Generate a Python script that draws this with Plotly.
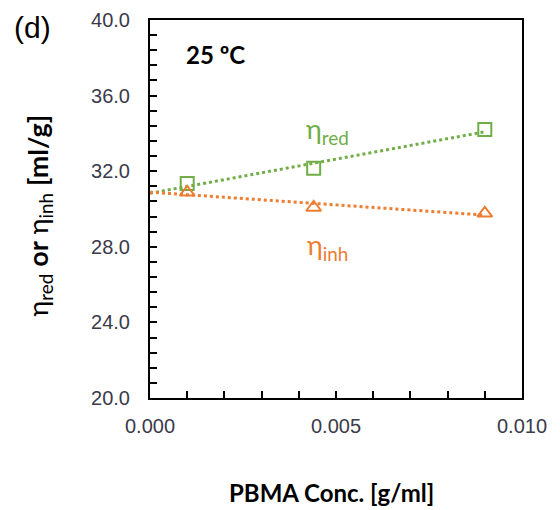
import numpy as np
import plotly.graph_objects as go

conc = [0.001, 0.0044, 0.009]
eta_red = [31.35, 32.15, 34.2]
eta_inh = [30.88, 30.08, 29.77]

x_ticks = [0.0, 0.005, 0.010]
x_tick_labels = ["0.000", "0.005", "0.010"]
y_ticks = [20, 24, 28, 32, 36, 40]
y_tick_labels = ["20.0", "24.0", "28.0", "32.0", "36.0", "40.0"]

green = "#70AD47"
orange = "#ED7D31"

fig = go.Figure()

# trendlines (linear fits extended to x = 0)
xs = np.array([0.0, max(conc)])
for vals, col in [(eta_red, green), (eta_inh, orange)]:
    m, b = np.polyfit(conc, vals, 1)
    fig.add_trace(go.Scatter(x=xs, y=m * xs + b, mode="lines",
                             line=dict(color=col, width=3, dash="dot"),
                             showlegend=False, hoverinfo="skip"))

fig.add_trace(go.Scatter(x=conc, y=eta_red, mode="markers",
                         marker=dict(symbol="square-open", size=13, color=green,
                                     line=dict(width=2, color=green)),
                         showlegend=False))
fig.add_trace(go.Scatter(x=conc, y=eta_inh, mode="markers",
                         marker=dict(symbol="triangle-up-open", size=13, color=orange,
                                     line=dict(width=2, color=orange)),
                         showlegend=False))

tick_font = dict(family="Liberation Sans, Arial, sans-serif", size=20, color="#3a3a4a")

fig.update_xaxes(range=[0, 0.010], tickvals=x_ticks, ticktext=x_tick_labels,
                 ticks="inside", ticklen=7, tickwidth=2, tickcolor="black",
                 minor=dict(dtick=0.001, ticks="inside", ticklen=7, tickwidth=2, tickcolor="black"),
                 showline=True, linecolor="black", linewidth=2, mirror=True, automargin=False,
                 showgrid=False, zeroline=False, tickfont=tick_font, ticklabelstandoff=9)
fig.update_yaxes(range=[20, 40], tickvals=y_ticks, ticktext=y_tick_labels,
                 ticks="inside", ticklen=7, tickwidth=2, tickcolor="black",
                 minor=dict(dtick=0.8, ticks="inside", ticklen=7, tickwidth=2, tickcolor="black"),
                 showline=True, linecolor="black", linewidth=2, mirror=True, automargin=False,
                 showgrid=False, zeroline=False, tickfont=tick_font, ticklabelstandoff=14)

title_font = "Lato, Open Sans, sans-serif"
fig.add_annotation(text="<b>PBMA Conc. [g/ml]</b>", xref="paper", yref="paper",
                   x=0.489, y=-0.251, xanchor="center", yanchor="middle", showarrow=False,
                   font=dict(family=title_font, size=24, color="black"))
fig.add_annotation(text="η<sub>red</sub> <b>or</b> η<sub>inh</sub> <b>[ml/g]</b>",
                   xref="paper", yref="paper", x=-0.298, y=0.483, textangle=-90,
                   xanchor="center", yanchor="middle", showarrow=False,
                   font=dict(family=title_font, size=27, color="black"))
fig.add_annotation(text="(d)", xref="paper", yref="paper", x=-0.37, y=0.981,
                   xanchor="left", yanchor="middle", showarrow=False,
                   font=dict(family="Liberation Sans, Arial", size=30, color="black"))
fig.add_annotation(text="<b>25 ºC</b>", x=0.00175, y=38.15, xanchor="center", yanchor="middle",
                   showarrow=False, font=dict(family=title_font, size=24, color="black"))
fig.add_annotation(text="η<sub>red</sub>", x=0.00476, y=34.18, xanchor="center", yanchor="middle",
                   showarrow=False, font=dict(family=title_font, size=27, color=green))
fig.add_annotation(text="η<sub>inh</sub>", x=0.00476, y=28.0, xanchor="center", yanchor="middle",
                   showarrow=False, font=dict(family=title_font, size=27, color=orange))

fig.update_layout(width=552, height=502, plot_bgcolor="white", paper_bgcolor="white",
                  margin=dict(l=142, r=38, t=12, b=112), showlegend=False)

fig.write_html("out.html")
